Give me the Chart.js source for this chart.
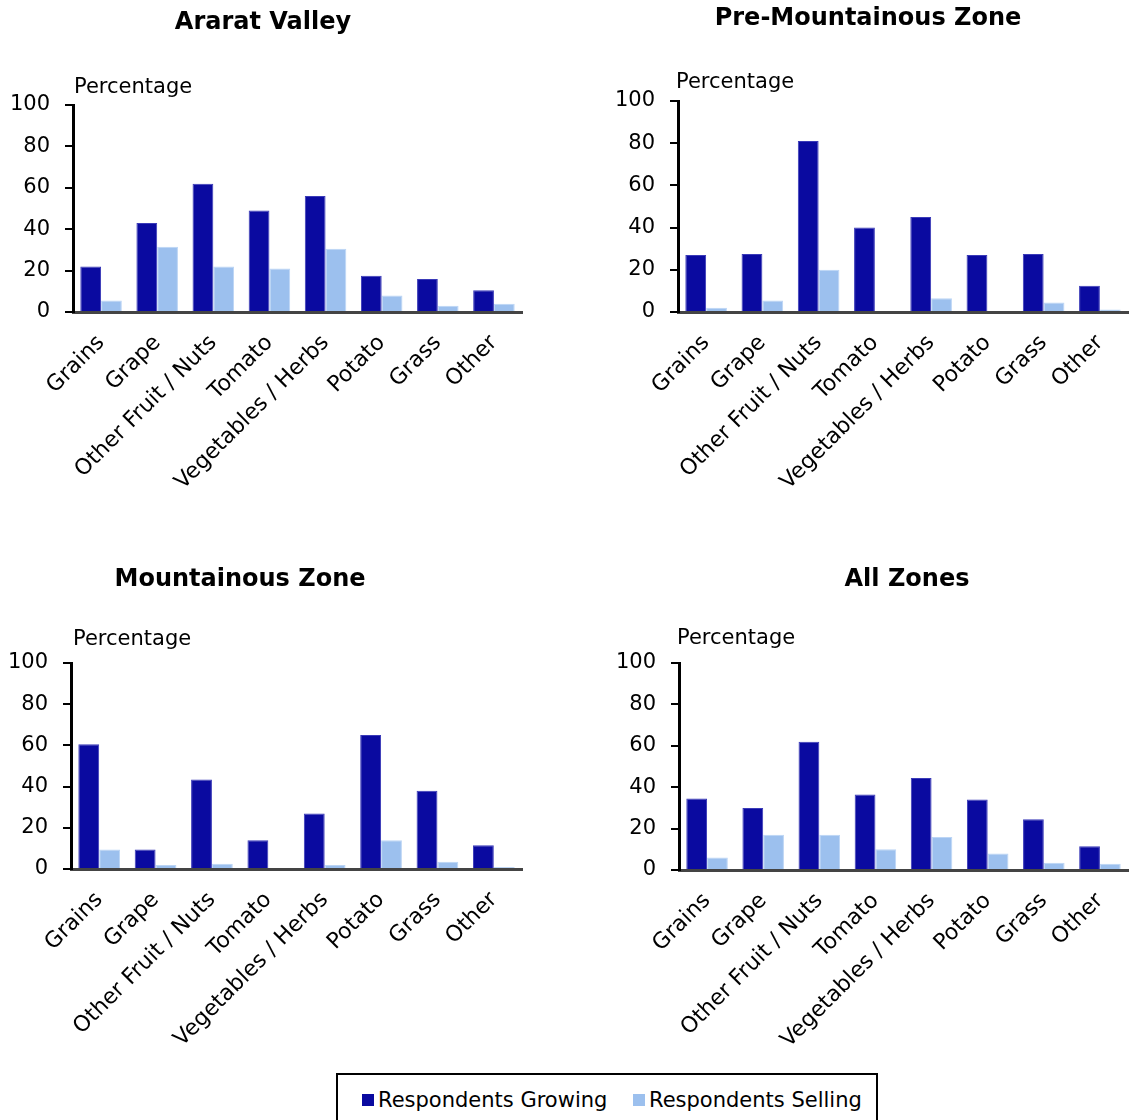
<!DOCTYPE html>
<html>
<head>
<meta charset="utf-8">
<script src="https://cdn.jsdelivr.net/npm/chart.js@4.4.0/dist/chart.umd.min.js"></script>
<style>
  html, body { margin: 0; padding: 0; background: #fff; }
  body { width: 1130px; height: 1120px; position: relative; overflow: hidden; font-family: "DejaVu Sans", sans-serif; }
  canvas { position: absolute; display: block; }
  #legend {
    position: absolute; left: 336px; top: 1073px; width: 538px; height: 60px;
    border: 2px solid #000; box-sizing: content-box; background: #fff;
  }
  #legend .item { position: absolute; top: 13px; font-size: 21px; line-height: 24px; color: #000; white-space: nowrap; }
  #legend .swatch { display: inline-block; width: 12px; height: 12px; margin-right: 4px; vertical-align: 1px; }
</style>
</head>
<body>
<canvas id="c1" width="565" height="540" style="left:0;top:0"></canvas>
<canvas id="c2" width="595" height="540" style="left:565px;top:0"></canvas>
<canvas id="c3" width="565" height="530" style="left:0;top:540px"></canvas>
<canvas id="c4" width="595" height="530" style="left:565px;top:540px"></canvas>
<div id="legend"></div>

<script>
// Crop categories shared by all four zones
const categories = ["Grains", "Grape", "Other Fruit / Nuts", "Tomato", "Vegetables / Herbs", "Potato", "Grass", "Other"];
const seriesNames = ["Respondents Growing", "Respondents Selling"];

// Percentage of respondents, per zone
const araratGrowing   = [22, 43, 62, 49, 56, 17.5, 16, 10.5];
const araratSelling   = [5.5, 31.5, 22, 21, 30.5, 8, 3, 4];
const preMountGrowing = [27, 27.5, 81, 40, 45, 27, 27.5, 12.5];
const preMountSelling = [2, 5.5, 20, 0.5, 6.5, 0.5, 4.5, 1.2];
const mountGrowing    = [60.5, 9.5, 43.5, 14, 27, 65, 38, 11.5];
const mountSelling    = [9.5, 2, 2.5, 0, 2, 14, 3.5, 1];
const allGrowing      = [34.5, 30, 62, 36.5, 44.5, 34, 24.5, 11.5];
const allSelling      = [6, 17, 17, 10, 16, 8, 3.5, 3];

const yTicks = [0, 20, 40, 60, 80, 100];
const unitLabel = "Percentage";

const FONT = '"DejaVu Sans", sans-serif';
const growColor = '#0a0aa0';
const sellColor = '#9cc0ee';

// Draws the panel heading and the unit label above the value axis
const panelText = {
  id: 'panelText',
  afterDraw(chart, args, opts) {
    const ctx = chart.ctx, a = chart.chartArea;
    ctx.save();
    ctx.fillStyle = '#000';
    ctx.textBaseline = 'middle';
    ctx.font = 'bold 24px ' + FONT;
    ctx.textAlign = 'center';
    ctx.fillText(opts.title, opts.titleX, opts.titleY);
    ctx.font = '21px ' + FONT;
    ctx.textAlign = 'left';
    ctx.fillText(unitLabel, a.left + opts.unitDx, a.top - opts.unitDy);
    ctx.restore();
  }
};

function makePanel(id, title, growing, selling, g) {
  return new Chart(document.getElementById(id), {
    type: 'bar',
    data: {
      labels: categories,
      datasets: [
        { label: seriesNames[0], data: growing, backgroundColor: growColor,
          borderColor: '#3a3ab8', borderWidth: { top: 1, left: 1, right: 1, bottom: 0 } },
        { label: seriesNames[1], data: selling, backgroundColor: sellColor,
          borderColor: '#bcd5f5', borderWidth: { top: 1, left: 1, right: 1, bottom: 0 } }
      ]
    },
    options: {
      responsive: false,
      animation: false,
      devicePixelRatio: 1,
      layout: { padding: { left: 0, top: g.top, right: g.right, bottom: 0 } },
      datasets: { bar: { categoryPercentage: 0.74, barPercentage: 1.0 } },
      plugins: {
        legend: { display: false },
        title: { display: false },
        tooltip: { enabled: false },
        panelText: { title: title, titleX: g.titleX, titleY: g.titleY, unitDx: g.unitDx, unitDy: g.unitDy }
      },
      scales: {
        x: {
          grid: { display: false, drawTicks: false },
          border: { display: true, color: '#444', width: 3 },
          ticks: { color: '#000', font: { family: FONT, size: 22 }, minRotation: 45, maxRotation: 45, autoSkip: false, padding: 18 },
          afterFit(scale) { scale.height = g.xHeight; }
        },
        y: {
          min: 0, max: 100,
          afterBuildTicks(scale) { scale.ticks = yTicks.map(v => ({ value: v })); },
          grid: { drawOnChartArea: false, drawTicks: true, tickLength: 8, color: '#000', lineWidth: 2 },
          border: { display: true, color: '#000', width: 3 },
          ticks: { color: '#000', font: { family: FONT, size: 21 }, padding: 15 },
          afterFit(scale) { scale.width = g.yWidth; }
        }
      }
    },
    plugins: [panelText]
  });
}

makePanel('c1', 'Ararat Valley', araratGrowing, araratSelling,
  { yWidth: 73, top: 105, right: 43, xHeight: 228, titleX: 263, titleY: 23, unitDx: 1, unitDy: 17 });
makePanel('c2', 'Pre-Mountainous Zone', preMountGrowing, preMountSelling,
  { yWidth: 113, top: 101, right: 32, xHeight: 228, titleX: 303, titleY: 19, unitDx: -2, unitDy: 18 });
makePanel('c3', 'Mountainous Zone', mountGrowing, mountSelling,
  { yWidth: 71, top: 123, right: 43, xHeight: 201, titleX: 240, titleY: 40, unitDx: 2, unitDy: 23 });
makePanel('c4', 'All Zones', allGrowing, allSelling,
  { yWidth: 114, top: 123, right: 32, xHeight: 200, titleX: 342, titleY: 40, unitDx: -2, unitDy: 24 });

// Shared legend under the four panels
const legend = document.getElementById('legend');
const legendX = [24, 295];
[growColor, sellColor].forEach((c, i) => {
  const item = document.createElement('div');
  item.className = 'item';
  item.style.left = legendX[i] + 'px';
  const sw = document.createElement('span');
  sw.className = 'swatch';
  sw.style.background = c;
  item.appendChild(sw);
  item.appendChild(document.createTextNode(seriesNames[i]));
  legend.appendChild(item);
});
</script>
</body>
</html>
